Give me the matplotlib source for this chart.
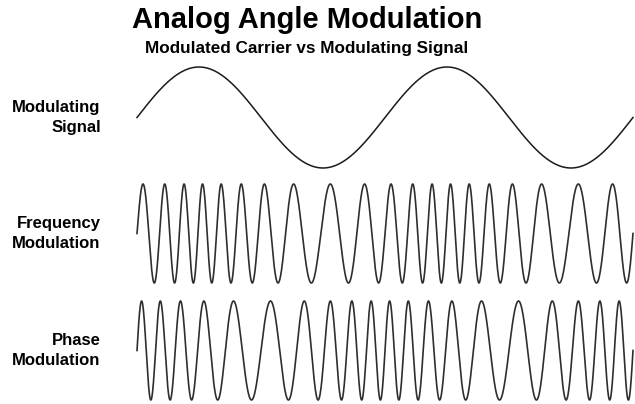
import numpy as np
import matplotlib
matplotlib.use('Agg')
import matplotlib.pyplot as plt

# Parametros de las señales
mod_cycles = 2          # ciclos de la moduladora en todo el ancho
carrier_cycles = 20     # ciclos de la portadora
fm_index = 3.5          # indice de modulacion FM (rad)
pm_index = 3.5          # desviacion de fase PM (rad)
n_samples = 4000

row_labels = ['Modulating\nSignal', 'Frequency\nModulation', 'Phase\nModulation']
title = 'Analog Angle Modulation'
subtitle = 'Modulated Carrier vs Modulating Signal'

t = np.linspace(0, 1, n_samples)
modulating = np.sin(2 * np.pi * mod_cycles * t)
fm_phase = 2 * np.pi * carrier_cycles * t + fm_index * (1 - np.cos(2 * np.pi * mod_cycles * t))
fm_signal = np.sin(fm_phase)
pm_phase = 2 * np.pi * carrier_cycles * t + pm_index * np.sin(2 * np.pi * mod_cycles * t)
pm_signal = np.sin(pm_phase)

signals = [modulating, fm_signal, pm_signal]
colors = ['#1a1a1a', '#2e2e2e', '#2e2e2e']
widths = [1.1, 1.2, 1.2]

plt.rcParams['font.family'] = ['Liberation Sans', 'DejaVu Sans']

fig = plt.figure(figsize=(6.35, 4.04), dpi=100)

# posiciones de cada fila en pixeles
W, H = 635.0, 404.0
x0, x1 = 137, 633
rows = [(67, 168), (184, 283), (301, 400)]

for i, (top, bottom) in enumerate(rows):
    ax = fig.add_axes([x0 / W, 1 - bottom / H, (x1 - x0) / W, (bottom - top) / H])
    ax.plot(t, signals[i], color=colors[i], lw=widths[i], clip_on=False)
    ax.set_xlim(0, 1)
    ax.set_ylim(-1, 1)
    ax.axis('off')
    lx = (100.7 - x0) / (x1 - x0)
    ax.text(lx, 0.5, row_labels[i], transform=ax.transAxes, ha='right', va='center',
            multialignment='right', fontsize=12, fontweight='bold', linespacing=1.45)

fig.text(307.5 / W, 1 - 28.3 / H, title, ha='center', va='baseline',
         fontsize=21, fontweight='bold')
fig.text(306.8 / W, 1 - 53.3 / H, subtitle, ha='center', va='baseline',
         fontsize=12.3, fontweight='bold')

fig.savefig('out.png', dpi=100)
plt.close(fig)
